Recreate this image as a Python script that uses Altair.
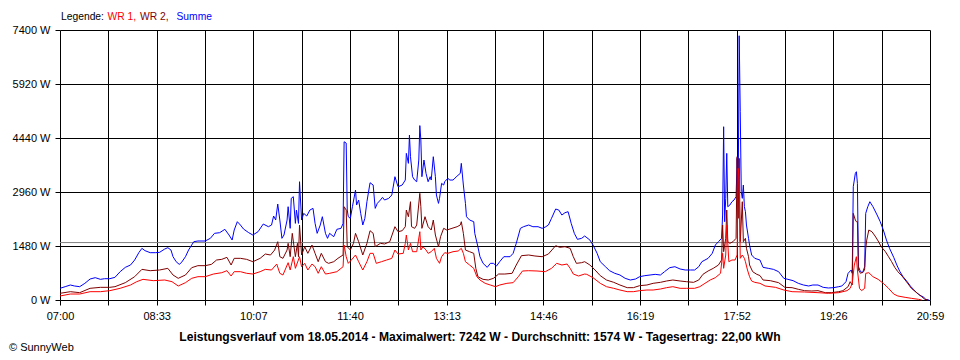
import json
import pandas as pd
import altair as alt

TITLE = "Leistungsverlauf vom 18.05.2014 - Maximalwert: 7242 W - Durchschnitt: 1574 W - Tagesertrag: 22,00 kWh"
CREDIT = "© SunnyWeb"
LEGEND_PARTS = ["Legende:", "WR 1,", "WR 2,", "Summe"]
X_LABELS = ["07:00", "08:33", "10:07", "11:40", "13:13", "14:46", "16:19", "17:52", "19:26", "20:59"]
Y_TICKS = [0, 1480, 2960, 4440, 5920, 7400]
AVERAGE = 1574
START, END = "07:00", "20:59"
COLORS = {"WR 1": "#ff0000", "WR 2": "#800000", "Summe": "#0000ff"}

sum_times = ["07:00","07:05","07:10","07:14","07:19","07:24","07:29","07:34","07:39","07:43","07:48","07:53","07:58",
 "08:03","08:08","08:12","08:16","08:19","08:22","08:27","08:32","08:36","08:41","08:44","08:47","08:49","08:52","08:55","08:57",
 "09:01","09:04","09:09","09:13","09:20","09:25","09:29","09:34","09:39","09:43","09:46","09:48","09:51","09:54","09:57",
 "10:02","10:06","10:11","10:16","10:21","10:24","10:26","10:28","10:30","10:32","10:34","10:36","10:39","10:40","10:42","10:43",
 "10:45","10:47","10:48","10:50","10:51","10:53","10:55","10:58","11:01","11:04","11:06","11:08","11:11","11:13","11:16","11:18",
 "11:20","11:24","11:27","11:31","11:33","11:34","11:36","11:37","11:38","11:40","11:42","11:45","11:46","11:48","11:50","11:52",
 "11:54","11:56","11:59","12:02","12:04","12:06","12:09","12:11","12:13","12:17","12:20","12:23","12:26","12:30","12:33","12:34",
 "12:36","12:37","12:38","12:40","12:42","12:44","12:46","12:47","12:48","12:49","12:51","12:53","12:55","12:57","12:58","13:00",
 "13:02","13:03","13:05","13:06","13:08","13:10","13:11","13:14","13:16","13:19","13:23","13:26","13:27","13:29","13:31","13:32",
 "13:35","13:39","13:40","13:43","13:45","13:48","13:52","13:55","13:58","14:01","14:04","14:08","14:11","14:14","14:17","14:20",
 "14:24","14:27","14:32","14:36","14:41","14:45","14:48","14:51","14:54","14:58","15:01","15:04","15:07","15:10","15:13","15:16",
 "15:19","15:23","15:26","15:31","15:34","15:38","15:41","15:46","15:50","15:55","16:00","16:05","16:10","16:15","16:19","16:24",
 "16:29","16:34","16:39","16:43","16:48","16:53","16:58","17:03","17:08","17:12","17:16","17:19","17:22","17:25","17:29","17:32",
 "17:35","17:38","17:39","17:40","17:41","17:42","17:43","17:44","17:46","17:48","17:50","17:52","17:53","17:54","17:55","17:56",
 "17:57","17:58","17:59","18:00","18:01","18:02","18:04","18:05","18:07","18:10","18:15","18:18","18:23","18:28","18:33","18:38",
 "18:42","18:47","18:52","18:57","19:02","19:06","19:11","19:16","19:21","19:26","19:31","19:34","19:38","19:40","19:43","19:44",
 "19:45","19:47","19:48","19:49","19:50","19:52","19:54","19:56","19:57","19:59","20:01","20:04","20:08","20:11","20:14","20:17",
 "20:20","20:24","20:27","20:30","20:33","20:37","20:40","20:43","20:46","20:49","20:53","20:55","20:58"]
sum_vals = [320,365,411,384,365,457,575,612,566,584,584,621,776,
 895,959,1096,1297,1416,1352,1297,1297,1306,1397,1434,1370,1187,1050,977,1023,
 1187,1370,1598,1617,1617,1690,1827,1845,1937,1781,1644,1918,2146,2055,1945,
 1845,1781,1872,2082,2009,2055,2302,2192,2630,2192,1690,1781,2192,2557,1964,2786,
 2831,2100,2466,2100,3242,2192,2374,2302,2466,2511,2100,1827,2055,2283,1827,1690,
 1827,1735,1937,1964,2100,4337,4300,2466,2283,2238,2557,3014,2603,2740,2374,2055,
 2238,2694,3214,3151,2511,2648,2740,2813,2740,2786,2877,3379,3105,3151,3288,4019,
 3745,4521,3927,3379,3288,3242,3836,4780,4384,3379,3836,3470,3242,3379,3288,3927,
 3379,2877,2648,2786,3196,3151,3242,3334,3288,3288,3398,3470,3745,3151,2648,2283,
 2192,2146,1827,1461,1187,1005,895,1005,1005,932,1050,1187,1187,1187,1279,1553,
 1964,2009,2055,2009,2009,1964,2000,2055,2238,2493,2466,2329,2393,2420,2100,1827,
 1663,1690,1754,1644,1507,1279,1050,913,803,731,685,594,548,575,639,667,
 685,703,685,776,886,913,850,822,822,822,913,1050,1096,1142,1279,1507,
 1598,1690,2329,4749,2146,2786,4019,2557,2603,2694,2740,2831,3882,2786,7242,5159,
 2968,2786,3151,2557,2420,2055,1690,1507,1233,1142,1096,895,868,840,776,594,
 566,530,457,411,384,411,411,347,329,338,365,384,502,731,822,731,
 3105,3470,3516,3196,913,776,749,913,2374,2557,2694,2557,2329,2146,1918,1644,
 1416,1169,959,776,639,502,384,293,201,137,73,18,0]

wr2_times = ["07:00","07:10","07:19","07:29","07:39","07:48","07:53","08:03","08:12","08:19","08:27","08:36","08:44","08:49",
 "08:54","09:01","09:07","09:13","09:20","09:26","09:31","09:36","09:41","09:45","09:48","09:54","10:00","10:06","10:13","10:18",
 "10:23","10:27","10:30","10:32","10:35","10:39","10:40","10:42","10:44","10:47","10:49","10:50","10:51","10:53","10:56","10:59",
 "11:03","11:06","11:09","11:12","11:16","11:19","11:24","11:28","11:33","11:34","11:36","11:37","11:40","11:43","11:45","11:48",
 "11:52","11:56","11:59","12:02","12:04","12:09","12:13","12:18","12:23","12:26","12:30","12:33","12:34","12:36","12:38","12:39",
 "12:42","12:44","12:47","12:48","12:49","12:52","12:55","12:58","13:00","13:02","13:05","13:07","13:10","13:13","13:18","13:23",
 "13:26","13:27","13:29","13:31","13:35","13:39","13:41","13:43","13:48","13:53","13:58","14:03","14:09","14:16","14:20","14:25",
 "14:32","14:38","14:45","14:51","14:58","15:02","15:07","15:12","15:15","15:18","15:23","15:26","15:31","15:36","15:41","15:47",
 "15:54","16:00","16:07","16:13","16:19","16:26","16:32","16:39","16:45","16:51","16:58","17:04","17:11","17:16","17:20","17:25",
 "17:30","17:35","17:38","17:39","17:40","17:42","17:43","17:44","17:46","17:49","17:52","17:53","17:54","17:55","17:56","17:58",
 "17:59","18:01","18:02","18:04","18:05","18:08","18:12","18:15","18:18","18:25","18:33","18:39","18:46","18:52","18:58","19:05",
 "19:11","19:18","19:24","19:31","19:35","19:40","19:42","19:44","19:45","19:47","19:48","19:49","19:50","19:52","19:55","19:56",
 "19:57","19:58","20:00","20:03","20:06","20:09","20:12","20:16","20:19","20:22","20:25","20:28","20:32","20:35","20:38","20:41",
 "20:45","20:48","20:51","20:54","20:57"]
wr2_vals = [183,228,201,320,347,347,365,475,639,840,803,822,868,685,
 594,685,886,941,941,977,1096,1114,1169,959,1142,1142,1114,1050,1142,1260,
 1233,1370,1598,1187,1142,1370,1553,1187,1827,1187,1553,1187,2055,1233,1461,1279,
 1507,1279,1050,1279,1050,1005,1050,1142,1233,2557,2466,1461,1370,1553,1827,1598,
 1233,1553,1899,1827,1461,1553,1535,1598,2009,1872,1899,2009,2466,2283,2694,2009,
 1964,2055,2923,2557,1964,2283,2009,1918,2192,1781,1461,1735,1964,1918,1964,2009,
 2055,2146,1827,1370,1324,1279,868,639,566,548,594,712,712,731,959,1215,
 1233,1206,1187,1260,1489,1444,1461,1416,1187,1005,1023,1050,959,822,667,548,
 484,411,338,338,393,411,457,484,521,548,521,502,484,548,703,795,
 868,959,1096,2055,1324,1690,2466,1598,1553,1598,1690,3927,2238,3882,1598,2694,
 1598,1690,1416,1187,959,776,703,670,548,530,475,347,338,293,256,247,
 256,201,201,228,256,365,502,411,2374,2192,2146,2146,822,731,776,850,
 1400,1644,1918,1872,1754,1617,1461,1324,1187,1050,895,776,658,548,438,320,
 228,155,91,18,0]

wr1_times = ["07:00","07:10","07:19","07:29","07:39","07:48","07:58","08:08","08:14","08:20","08:30","08:41","08:48","08:54",
 "09:01","09:07","09:13","09:20","09:28","09:36","09:41","09:45","09:48","09:54","10:00","10:06","10:13","10:18","10:24","10:29",
 "10:32","10:35","10:40","10:42","10:45","10:47","10:51","10:53","10:56","10:59","11:03","11:06","11:09","11:12","11:16","11:20",
 "11:27","11:33","11:34","11:36","11:38","11:41","11:45","11:48","11:52","11:56","11:59","12:02","12:05","12:10","12:15","12:20",
 "12:23","12:26","12:31","12:33","12:34","12:36","12:38","12:40","12:44","12:47","12:48","12:50","12:53","12:55","12:58","13:01",
 "13:03","13:06","13:08","13:11","13:14","13:19","13:24","13:27","13:29","13:31","13:35","13:39","13:42","13:45","13:50","13:55",
 "14:00","14:04","14:11","14:17","14:22","14:26","14:32","14:40","14:48","14:54","14:59","15:04","15:09","15:12","15:15","15:20",
 "15:26","15:28","15:34","15:41","15:47","15:54","16:00","16:07","16:13","16:19","16:26","16:32","16:39","16:45","16:51","16:58",
 "17:04","17:12","17:17","17:22","17:27","17:32","17:37","17:39","17:40","17:42","17:43","17:45","17:48","17:51","17:53","17:54",
 "17:55","17:56","17:58","18:00","18:01","18:03","18:05","18:07","18:10","18:15","18:20","18:30","18:38","18:46","18:58","19:11",
 "19:21","19:31","19:39","19:42","19:44","19:46","19:48","19:49","19:51","19:53","19:56","19:57","20:00","20:04","20:09","20:14",
 "20:19","20:24","20:28","20:35","20:41","20:48","20:51"]
wr1_vals = [110,164,164,228,228,256,320,411,502,566,530,548,502,384,
 475,594,639,639,712,749,803,658,776,776,731,712,776,840,822,986,
 731,685,1023,822,1187,868,1187,913,1005,822,986,913,731,913,712,731,
 776,913,1507,1187,1005,1096,1233,1050,822,1050,1279,1279,1005,1050,1096,1142,
 1370,1260,1279,1553,1781,1370,1553,1324,1324,1872,1370,1461,1370,1279,1324,1416,
 1142,1005,1187,1297,1279,1324,1343,1416,1279,1050,959,868,639,548,457,411,
 365,411,457,475,639,795,803,795,776,868,1005,959,986,868,712,658,
 712,703,612,457,365,320,274,228,228,256,274,274,301,338,365,320,
 320,320,365,457,548,612,731,1279,868,1233,2055,1050,1096,1096,1233,3608,
 3334,1142,1233,1142,1050,822,639,521,484,457,384,347,274,228,219,201,
 183,201,256,320,457,959,1187,822,320,256,320,731,749,639,566,457,
 320,164,110,73,46,18,0]


def to_min(s):
    h, m = s.split(":")
    return int(h) * 60 + int(m) - (int(START[:2]) * 60 + int(START[3:]))


SPAN = to_min(END)
N_GRID = 2 * (len(X_LABELS) - 1)
x_ticks = [SPAN * k / N_GRID for k in range(N_GRID + 1)]
label_expr = (f"(round(datum.value*{N_GRID}/{SPAN}) % 2 == 0) ? "
              f"{json.dumps(X_LABELS)}[round(datum.value*{N_GRID}/{SPAN})/2] : ''")

FONT = "Liberation Sans"

x_enc = alt.X("t:Q", scale=alt.Scale(domain=[0, SPAN], nice=False, zero=False),
              axis=alt.Axis(values=x_ticks, labelExpr=label_expr, title=None, grid=True,
                            gridColor="#000000", gridOpacity=1, gridWidth=1, domain=False,
                            tickColor="#000000", tickSize=5, labelPadding=5,
                            labelOverlap=False, labelFlush=False, labelBound=False))
y_enc = alt.Y("v:Q", scale=alt.Scale(domain=[0, Y_TICKS[-1]], nice=False, zero=True),
              axis=alt.Axis(values=Y_TICKS, labelExpr="datum.value + ' W'", title=None, grid=True,
                            gridColor="#000000", gridOpacity=1, gridWidth=1, domain=False,
                            tickColor="#000000", tickSize=5, labelPadding=5))


def series(times, vals, name):
    df = pd.DataFrame({"t": [to_min(s) for s in times], "v": vals, "series": name})
    return alt.Chart(df).mark_line(color=COLORS[name], strokeWidth=1, interpolate="linear").encode(
        x=x_enc, y=y_enc)


avg_rule = alt.Chart(pd.DataFrame({"v": [AVERAGE]})).mark_rule(color="#808080", strokeWidth=1).encode(y=y_enc)


def text(txt, x, y, color="#000000", bold=False, align="left", size=11):
    return alt.Chart(pd.DataFrame({"s": [txt]})).mark_text(
        font=FONT, fontSize=size, fontWeight="bold" if bold else "normal", color=color,
        align=align, baseline="middle").encode(text="s:N", x=alt.value(x), y=alt.value(y))


legend_colors = ["#000000", COLORS["WR 1"], COLORS["WR 2"], COLORS["Summe"]]
legend_x = [1, 47.5, 80, 116.5]
legend = [text(p, lx, -13, c, size=10.3) for p, lx, c in zip(LEGEND_PARTS, legend_x, legend_colors)]

chart = alt.layer(
    avg_rule,
    series(sum_times, sum_vals, "Summe"),
    series(wr2_times, wr2_vals, "WR 2"),
    series(wr1_times, wr1_vals, "WR 1"),
    *legend,
    text(TITLE, 420, 307, bold=True, align="center", size=12.1),
    text(CREDIT, -51, 318),
).properties(
    width=870, height=270,
    autosize=alt.AutoSizeParams(type="none"),
    padding={"left": 52, "top": 22, "right": 22, "bottom": 58},
    background="#ffffff",
).configure_view(stroke=None).configure_axis(
    labelFont=FONT, labelFontSize=11, labelColor="#000000"
)

chart.save("out.html", embed_options={"renderer": "svg", "actions": False})
